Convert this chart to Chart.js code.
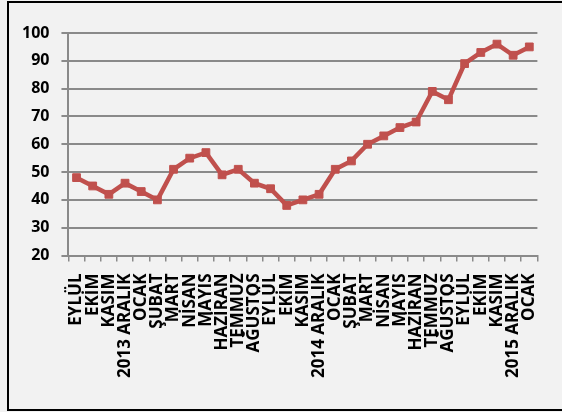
<!DOCTYPE html>
<html>
<head>
<meta charset="utf-8">
<script src="https://cdn.jsdelivr.net/npm/chart.js@4"></script>
<style>
  html, body { margin: 0; padding: 0; background: #f2f2f2; }
  #wrap { position: relative; width: 562px; height: 412px; }
  #frame { position: absolute; left: 7px; top: 1px; width: 570px; height: 410px;
           border: 2px solid #000; box-sizing: border-box; }
  canvas { position: absolute; left: 0; top: 0; }
</style>
</head>
<body>
<div id="wrap">
  <canvas id="mycanvas" width="562" height="412"></canvas>
  <div id="frame"></div>
</div>
<script>
var months = ["EYLÜL", "EKİM", "KASIM", "2013 ARALIK", "OCAK", "ŞUBAT", "MART", "NİSAN", "MAYIS",
	"HAZİRAN", "TEMMUZ", "AĞUSTOS", "EYLÜL", "EKİM", "KASIM", "2014 ARALIK", "OCAK", "ŞUBAT",
	"MART", "NİSAN", "MAYIS", "HAZİRAN", "TEMMUZ", "AĞUSTOS", "EYLÜL", "EKİM", "KASIM",
	"2015 ARALIK", "OCAK"];
var values = [48, 45, 42, 46, 43, 40, 51, 55, 57, 49, 51, 46, 44, 38, 40, 42, 51, 54,
	60, 63, 66, 68, 79, 76, 89, 93, 96, 92, 95];
var yTicks = [20, 30, 40, 50, 60, 70, 80, 90, 100];

var red = "rgb(192, 80, 77)";

var ctx = document.getElementById("mycanvas");

var LineGraph = new Chart(ctx, {
	type: 'line',
	data: {
		labels: months,
		datasets: [{
			label: "Seri",
			data: values,
			fill: false,
			tension: 0,
			borderColor: red,
			backgroundColor: red,
			borderWidth: 4.5,
			pointStyle: 'rect',
			pointRadius: 5.5,
			pointBorderWidth: 1,
			pointBackgroundColor: red,
			pointBorderColor: red
		}]
	},
	options: {
		responsive: false,
		animation: false,
		layout: { padding: { left: 10, right: 17, top: 33, bottom: 22 } },
		plugins: { legend: { display: false }, tooltip: { enabled: false } },
		scales: {
			x: {
				offset: true,
				grid: { display: true, drawOnChartArea: false, offset: true, tickLength: 6, color: "#8a8a8a", lineWidth: 1.5 },
				border: { color: "#8a8a8a", width: 2 },
				ticks: {
					autoSkip: false, minRotation: 90, maxRotation: 90, padding: 12,
					color: "#000",
					font: { family: "Open Sans", weight: "bold", size: 17 }
				}
			},
			y: {
				min: 20, max: 100,
				afterBuildTicks: function(axis) { axis.ticks = yTicks.map(function(v) { return { value: v }; }); },
				grid: { color: "#8a8a8a", lineWidth: 2, tickLength: 7 },
				border: { color: "#8a8a8a", width: 2 },
				ticks: {
					padding: 12, color: "#000",
					font: { family: "Open Sans", weight: "bold", size: 16 }
				}
			}
		}
	}
});
</script>
</body>
</html>
